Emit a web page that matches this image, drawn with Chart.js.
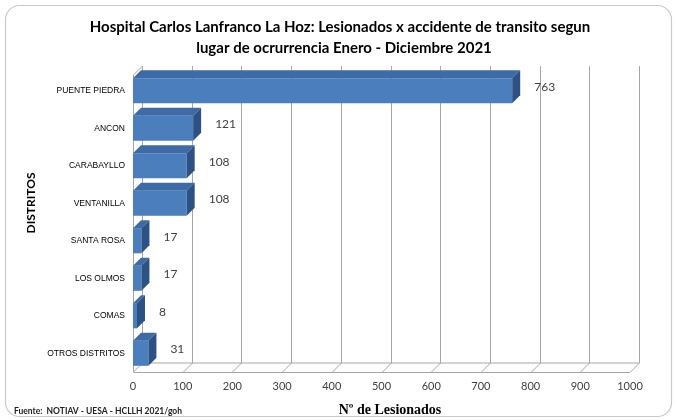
<!DOCTYPE html>
<html>
<head>
<meta charset="utf-8">
<script src="https://cdn.jsdelivr.net/npm/chart.js@4/dist/chart.umd.min.js"></script>
<style>
  html, body { margin: 0; background: #fff; }
</style>
</head>
<body>
<canvas id="lesionadosChart" width="677" height="420"></canvas>
<script>
// data
const distritos = ["PUENTE PIEDRA", "ANCON", "CARABAYLLO", "VENTANILLA", "SANTA ROSA", "LOS OLMOS", "COMAS", "OTROS DISTRITOS"];
const lesionados = [763, 121, 108, 108, 17, 17, 8, 31];
const xMin = 0;
const xMax = 1000;
const xStep = 100;

const titulo = [
  "Hospital Carlos Lanfranco La Hoz: Lesionados x accidente de transito segun",
  "lugar de ocrurrencia Enero - Diciembre 2021"
];
const tituloX = "Nº de Lesionados";
const tituloY = "DISTRITOS";
const fuente = "Fuente:  NOTIAV - UESA - HCLLH 2021/goh";

const WALL = 9;   // depth of the back wall
const DEPTH = 8;  // depth of each bar

/* ======================
   3D LOOK + EXTRA TEXT
====================== */
const excel3d = {
  id: "excel3d",
  beforeDraw(chart) {
    const ctx = chart.ctx;
    ctx.save();
    ctx.fillStyle = "#fff";
    ctx.fillRect(0, 0, chart.width, chart.height);
    ctx.strokeStyle = "#c9c9c9";
    ctx.lineWidth = 1.2;
    ctx.beginPath();
    ctx.roundRect(5.5, 5.5, chart.width - 11, chart.height - 9, 14);
    ctx.stroke();
    ctx.restore();
  },
  beforeDatasetsDraw(chart) {
    const { ctx, chartArea: a, scales: { x } } = chart;
    ctx.save();
    ctx.strokeStyle = "#a6a6a6";
    ctx.lineWidth = 1;
    // back wall grid lines, bending to the floor
    for (let v = xMin; v <= xMax; v += xStep) {
      const px = Math.round(x.getPixelForValue(v)) + 0.5;
      ctx.beginPath();
      ctx.moveTo(px + WALL, a.top - WALL + 3);
      ctx.lineTo(px + WALL, a.bottom - WALL);
      ctx.lineTo(px, a.bottom);
      ctx.stroke();
    }
    // left wall
    const l = Math.round(a.left) + 0.5;
    ctx.beginPath();
    ctx.moveTo(l, a.bottom);
    ctx.lineTo(l, a.top + 3);
    ctx.lineTo(l + WALL, a.top - WALL + 3);
    ctx.stroke();
    // floor
    ctx.beginPath();
    ctx.moveTo(l, Math.round(a.bottom) + 0.5);
    ctx.lineTo(x.getPixelForValue(xMax), Math.round(a.bottom) + 0.5);
    ctx.moveTo(l + WALL, a.bottom - WALL);
    ctx.lineTo(x.getPixelForValue(xMax) + WALL, a.bottom - WALL);
    ctx.stroke();
    ctx.restore();
  },
  afterDatasetsDraw(chart) {
    const ctx = chart.ctx;
    const meta = chart.getDatasetMeta(0);
    ctx.save();
    meta.data.forEach((bar, i) => {
      const top = bar.y - bar.height / 2;
      const bottom = bar.y + bar.height / 2;
      // top face
      ctx.fillStyle = "#3e6aa6";
      ctx.beginPath();
      ctx.moveTo(bar.base, top);
      ctx.lineTo(bar.x, top);
      ctx.lineTo(bar.x + DEPTH, top - DEPTH);
      ctx.lineTo(bar.base + DEPTH, top - DEPTH);
      ctx.closePath();
      ctx.fill();
      // side face
      ctx.fillStyle = "#2c5185";
      ctx.beginPath();
      ctx.moveTo(bar.x, top);
      ctx.lineTo(bar.x + DEPTH, top - DEPTH);
      ctx.lineTo(bar.x + DEPTH, bottom - DEPTH);
      ctx.lineTo(bar.x, bottom);
      ctx.closePath();
      ctx.fill();
      // value label
      ctx.fillStyle = "#404040";
      ctx.font = "12px Lato, 'Open Sans', sans-serif";
      ctx.textAlign = "left";
      ctx.textBaseline = "middle";
      ctx.fillText(lesionados[i], bar.x + DEPTH + 14, bar.y - DEPTH / 2);
    });
    ctx.restore();
  },
  afterDraw(chart) {
    const ctx = chart.ctx;
    ctx.save();
    ctx.fillStyle = "#000";
    ctx.textAlign = "center";
    ctx.textBaseline = "middle";
    // chart title
    ctx.font = "bold 15px Lato, 'Open Sans', sans-serif";
    ctx.fillText(titulo[0], 340, 27);
    ctx.fillText(titulo[1], 344, 48);
    // y title
    ctx.font = "bold 12px Lato, 'Open Sans', sans-serif";
    ctx.translate(31, 203);
    ctx.rotate(-Math.PI / 2);
    ctx.fillText(tituloY, 0, 0);
    ctx.setTransform(1, 0, 0, 1, 0, 0);
    // x title
    ctx.font = "bold 14px 'Liberation Serif', serif";
    ctx.fillText(tituloX, 390, 410);
    // source
    ctx.font = "bold 8.5px Lato, 'Open Sans', sans-serif";
    ctx.textAlign = "left";
    ctx.fillStyle = "#222";
    ctx.fillText(fuente, 14, 411);
    ctx.restore();
  }
};

const canvas = document.getElementById("lesionadosChart");

new Chart(canvas, {
  type: "bar",
  data: {
    labels: distritos,
    datasets: [{
      label: tituloX,
      data: lesionados,
      backgroundColor: "#4a7ebd",
      borderWidth: 0,
      categoryPercentage: 1,
      barPercentage: 0.67
    }]
  },
  options: {
    indexAxis: "y",
    responsive: false,
    animation: false,
    devicePixelRatio: 1,
    layout: {
      padding: { top: 72, left: 12, right: 47, bottom: 0 }
    },
    plugins: {
      legend: { display: false },
      tooltip: { enabled: false },
      title: { display: false }
    },
    scales: {
      y: {
        afterFit(scale) { scale.width = 121; },
        grid: { display: false, drawTicks: false },
        border: { display: false },
        ticks: {
          autoSkip: false,
          padding: 8,
          color: "#000",
          font: { family: "'Liberation Sans Narrow', 'Arial Narrow', sans-serif", size: 8.5 }
        }
      },
      x: {
        min: xMin,
        max: xMax,
        afterFit(scale) { scale.height = 48; },
        grid: { display: false, drawTicks: false },
        border: { display: false },
        ticks: {
          stepSize: xStep,
          padding: 8,
          color: "#404040",
          font: { family: "Lato, 'Open Sans', sans-serif", size: 11 },
          callback: (v) => String(v)
        }
      }
    }
  },
  plugins: [excel3d]
});
</script>
</body>
</html>
